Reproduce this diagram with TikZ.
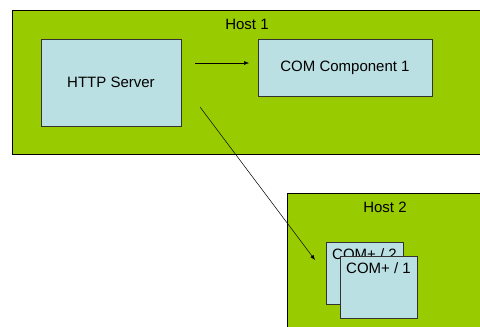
\documentclass[tikz,border=0pt]{standalone}
\usepackage{fontspec}
\setmainfont{Liberation Sans}
\usetikzlibrary{arrows.meta}
\definecolor{hostgreen}{HTML}{99CC00}
\definecolor{boxblue}{HTML}{BBE0E3}
\begin{document}
\begin{tikzpicture}[x=1pt,y=-1pt,
  host/.style={draw=black,fill=hostgreen,line width=0.8pt},
  comp/.style={draw=black!80,fill=boxblue,line width=0.8pt},
  lbl/.style={font=\fontsize{15}{18}\selectfont,inner sep=0pt},
  conn/.style={draw=black,line width=0.5pt,-{Latex[length=5pt,width=4pt]}}]
\useasboundingbox (0,0) rectangle (480,327);
\clip (0,0) rectangle (480,327);
% Host 1
\draw[host] (12,10) rectangle (490,154);
\node[lbl] (h1) at (247,24) {Host 1};
\draw[comp] (41,39) rectangle (181,126);
\node[lbl] (http) at (111,82.5) {HTTP Server};
\draw[comp] (258,39) rectangle (432,96);
\node[lbl] (com1) at (345,67.5) {COM Component 1};
% Host 2
\draw[host] (287,193) rectangle (490,340);
\node[lbl] (h2) at (385,207) {Host 2};
\draw[comp] (326,242) rectangle (403,304);
\node[lbl] (cp2) at (364.5,254) {COM+ / 2};
\draw[comp] (340,256) rectangle (417,318);
\node[lbl] (cp1) at (378.5,268.5) {COM+ / 1};
% connectors
\coordinate (a1) at (195,63);
\coordinate (a2) at (249,63);
\coordinate (b1) at (200,107);
\coordinate (b2) at (315,260);
\draw[conn] (a1) -- (a2);
\draw[conn] (b1) -- (b2);
\end{tikzpicture}
\end{document}
